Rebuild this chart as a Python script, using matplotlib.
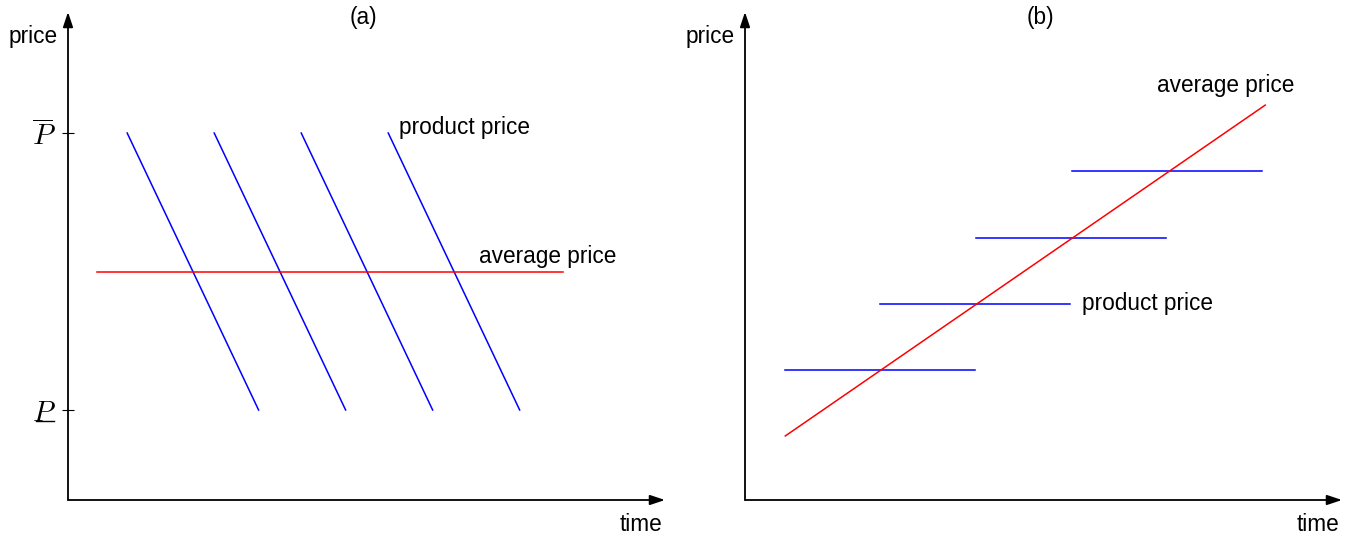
import matplotlib
matplotlib.use("Agg")
import matplotlib.pyplot as plt

plt.rcParams['font.family'] = ['Liberation Sans', 'DejaVu Sans']
plt.rcParams['mathtext.fontset'] = 'cm'

# panel (a): product price falls from P-bar to P-low, average stays flat
a_starts = [0.68, 1.68, 2.68, 3.68]
a_duration = 1.51
a_high, a_low = 1.0, 0.0
a_avg = 0.5
a_avg_span = [0.33, 5.69]

# panel (b): step product prices, rising average
b_starts = [0.42, 1.41, 2.41, 3.41]
b_levels = [1.97, 2.97, 3.97, 4.98]
b_length = 1.98
b_avg_x = [0.42, 5.42]
b_avg_y = [0.97, 5.98]

W, H = 1350, 537
fig = plt.figure(figsize=(W / 100, H / 100), dpi=100)

BLUE = '#0000ff'
RED = '#ff0000'
FS = 16.3


def arrow_axes(ax):
    for s in ax.spines.values():
        s.set_visible(False)
    kw = dict(arrowstyle='-|>,head_length=0.9,head_width=0.3', color='black',
              lw=1.3, shrinkA=0, shrinkB=0)
    ax.annotate('', xy=(1, 0), xytext=(0, 0), xycoords='axes fraction',
                arrowprops=kw, annotation_clip=False)
    ax.annotate('', xy=(0, 1), xytext=(0, 0), xycoords='axes fraction',
                arrowprops=kw, annotation_clip=False)
    ax.set_xticks([])


# ---- panel (a)
ax = fig.add_axes([68 / W, 37 / H, 597 / W, 488 / H])
ax.set_xlim(0, 6.86)
ax.set_ylim(-0.325, 1.437)
arrow_axes(ax)
for s in a_starts:
    ax.plot([s, s + a_duration], [a_high, a_low], color=BLUE, lw=1.1)
ax.plot(a_avg_span, [a_avg, a_avg], color=RED, lw=1.1)
ax.set_yticks([a_low, a_high])
ax.set_yticklabels(['$P$', r'$\overline{P}$'], fontsize=21)
ax.tick_params(axis='y', direction='inout', length=8, width=0.8, pad=5)
# underline for the lower bound label
ax.plot([-0.054, -0.023], [a_low - 0.04, a_low - 0.04], color='black', lw=1.0,
        transform=ax.get_yaxis_transform(), clip_on=False)
ax.text(3.68 + 0.12, 1.02, 'product price', fontsize=FS, va='center', ha='left')
ax.text(4.72, 0.555, 'average price', fontsize=FS, va='center', ha='left')
ax.text(-0.017, 0.95, 'price', fontsize=FS, transform=ax.transAxes, ha='right', va='center')
ax.text(0.96, -0.05, 'time', fontsize=FS, transform=ax.transAxes, ha='center', va='center')
ax.text(0.495, 0.988, '(a)', fontsize=FS, transform=ax.transAxes, ha='center', va='center')

# ---- panel (b)
bx = fig.add_axes([745 / W, 37 / H, 597 / W, 488 / H])
bx.set_xlim(0, 6.22)
bx.set_ylim(0, 7.39)
arrow_axes(bx)
bx.set_yticks([])
for s, lv in zip(b_starts, b_levels):
    bx.plot([s, s + b_length], [lv, lv], color=BLUE, lw=1.1)
bx.plot(b_avg_x, b_avg_y, color=RED, lw=1.1)
bx.text(b_starts[1] + b_length + 0.12, b_levels[1], 'product price', fontsize=FS,
        va='center', ha='left')
bx.text(b_avg_x[1] + 0.3, b_avg_y[1] + 0.3, 'average price', fontsize=FS,
        va='center', ha='right')
bx.text(-0.018, 0.95, 'price', fontsize=FS, transform=bx.transAxes, ha='right', va='center')
bx.text(0.96, -0.05, 'time', fontsize=FS, transform=bx.transAxes, ha='center', va='center')
bx.text(0.495, 0.988, '(b)', fontsize=FS, transform=bx.transAxes, ha='center', va='center')

fig.savefig('out.png', dpi=100)
